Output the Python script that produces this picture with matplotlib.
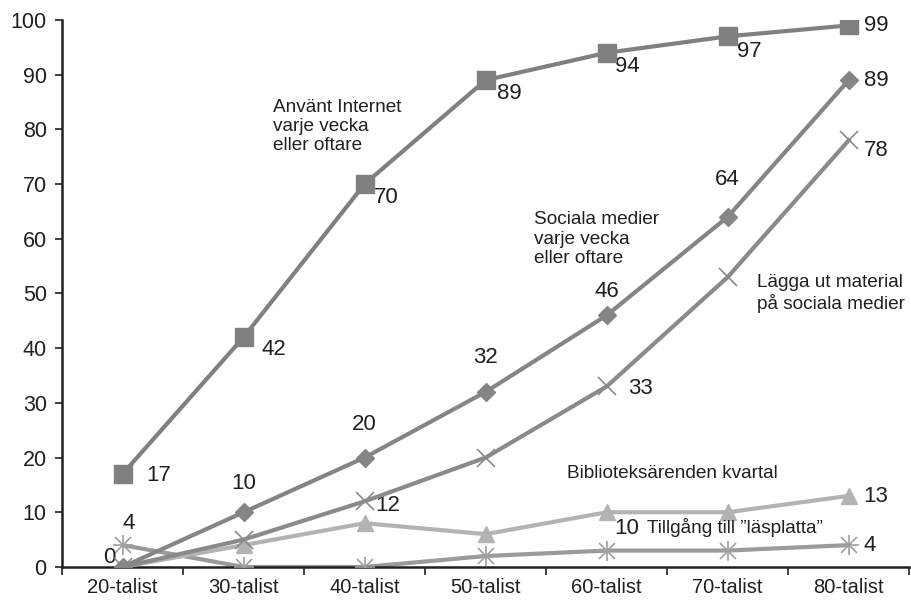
import matplotlib
matplotlib.use("Agg")
import matplotlib.pyplot as plt

plt.rcParams['font.family'] = ['Liberation Sans', 'DejaVu Sans']

categories = ['20-talist', '30-talist', '40-talist', '50-talist', '60-talist', '70-talist', '80-talist']
internet = [17, 42, 70, 89, 94, 97, 99]
sociala = [0, 10, 20, 32, 46, 64, 89]
lagga_ut = [0, 5, 12, 20, 33, 53, 78]
bibliotek = [0, 4, 8, 6, 10, 10, 13]
lasplatta = [4, 0, 0, 2, 3, 3, 4]

txt = '#231f20'
x = list(range(len(categories)))

fig = plt.figure(figsize=(9.12, 6.04), dpi=100)
ax = fig.add_axes([0.068, 0.0613, 0.929, 0.9057])

ax.plot(x, lasplatta, color='#9a9a9a', lw=3, zorder=2)
ax.plot(x, lasplatta, ls='none', marker='x', ms=11, mew=1.2, color='#a0a0a0', zorder=3)
ax.plot(x, lasplatta, ls='none', marker='+', ms=14, mew=1.2, color='#a0a0a0', zorder=3)
ax.plot(x, bibliotek, color='#b3b3b3', lw=3, marker='^', ms=12, zorder=3)
ax.plot(x, lagga_ut, color='#8a8a8a', lw=3, marker='x', ms=13, mew=1.2, zorder=4)
ax.plot(x, sociala, color='#858585', lw=3, marker='D', ms=9, zorder=5)
ax.plot(x, internet, color='#808080', lw=3, marker='s', ms=13, zorder=6)

ax.set_ylim(0, 100)
ax.set_xlim(-0.5, 6.5)
ax.set_yticks(range(0, 101, 10))
ax.tick_params(axis='y', labelsize=15.5, colors=txt, length=5, width=1.2, direction='out', pad=6)
ax.set_xticks([i - 0.5 for i in range(len(categories))] + [6.5])
ax.set_xticklabels([])
ax.set_xticks(x, minor=True)
ax.set_xticklabels(categories, minor=True)
ax.tick_params(axis='x', which='major', length=6, width=1.2, colors=txt)
ax.tick_params(axis='x', which='minor', length=0, labelsize=14.5, labelcolor=txt, pad=8)
for s in ['top', 'right']:
    ax.spines[s].set_visible(False)
for s in ['left', 'bottom']:
    ax.spines[s].set_linewidth(1.8)
    ax.spines[s].set_color(txt)


def lab(i, series, dx, dy, ha='left'):
    ax.annotate(str(series[i]), (x[i], series[i]), xytext=(dx, -dy),
                textcoords='offset pixels', ha=ha, va='center',
                fontsize=16, color=txt)


# Använt Internet
lab(0, internet, 24, 2)
lab(1, internet, 18, 12)
lab(2, internet, 9, 13)
lab(3, internet, 11, 13)
lab(4, internet, 8, 14)
lab(5, internet, 9, 15)
lab(6, internet, 15, 0)
# Sociala medier
lab(0, sociala, -13, -9, ha='center')
lab(1, sociala, 0, -29, ha='center')
lab(2, sociala, 0, -33, ha='center')
lab(3, sociala, 0, -34, ha='center')
lab(4, sociala, 0, -24, ha='center')
lab(5, sociala, 0, -37, ha='center')
lab(6, sociala, 15, 0)
# Lägga ut material
lab(2, lagga_ut, 11, 4)
lab(4, lagga_ut, 21, 2)
lab(6, lagga_ut, 15, 10)
# Biblioteksärenden
lab(4, bibliotek, 8, 16)
lab(6, bibliotek, 15, 1)
# Läsplatta
lab(0, lasplatta, 6, -22, ha='center')
lab(6, lasplatta, 15, 0)

fs = 13.7
ax.text(1.24, 85.6, 'Använt Internet\nvarje vecka\neller oftare', fontsize=fs,
        color=txt, va='top', ha='left', linespacing=1.18)
ax.text(3.40, 65.0, 'Sociala medier\nvarje vecka\neller oftare', fontsize=fs,
        color=txt, va='top', ha='left', linespacing=1.18)
ax.text(5.24, 53.5, 'Lägga ut material\npå sociala medier', fontsize=fs,
        color=txt, va='top', ha='left', linespacing=1.18)
ax.text(5.41, 17.0, 'Biblioteksärenden kvartal', fontsize=fs,
        color=txt, va='center', ha='right')
ax.text(4.335, 7.2, 'Tillgång till \u201dläsplatta\u201d', fontsize=fs,
        color=txt, va='center', ha='left')

fig.savefig('out.png', dpi=100)
